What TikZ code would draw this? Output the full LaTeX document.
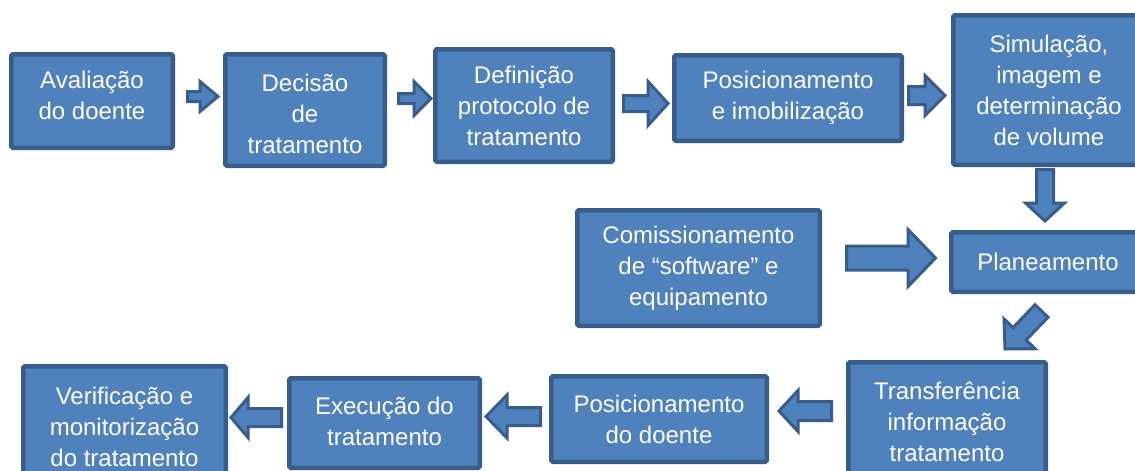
\documentclass[tikz,border=0pt]{standalone}
\usepackage{fontspec}
\setmainfont{Liberation Sans}
\usetikzlibrary{calc}
\definecolor{boxblue}{RGB}{79,129,189}
\definecolor{boxdark}{RGB}{56,93,138}
\newcommand{\blockarr}[5]{%
  \coordinate (bas) at #1; \coordinate (bae) at #2;
  \coordinate (bab) at ($(bae)!#5!(bas)$);
  \draw[blockarrow] ($(bas)!#3!90:(bae)$) -- ($(bab)!#3!-90:(bas)$) -- ($(bab)!#4!-90:(bas)$) -- (bae) -- ($(bab)!#4!90:(bas)$) -- ($(bab)!#3!90:(bas)$) -- ($(bas)!#3!-90:(bae)$) -- cycle;}
\tikzset{
  stepfont/.style={text=white, font=\fontsize{24}{31}\selectfont, align=center, inner sep=0pt},
  stepbox/.style={draw=boxdark, fill=boxblue, line width=4.5pt, rounded corners=1.5pt,
    stepfont, outer sep=0pt},
  blockarrow/.style={draw=boxdark, fill=boxblue, line width=3pt}
}
\begin{document}
\begin{tikzpicture}[x=1pt,y=-1pt]
\useasboundingbox (0,0) rectangle (1135,471);
\fill[white] (0,0) rectangle (1135,471);
\begin{scope}
\clip (0,0) rectangle (1135,471);
\node[stepbox, minimum width=161.5pt, minimum height=93.5pt,
  label={[stepfont,yshift=6pt]center:{Avaliação\\do doente}}] (A) at (92,101) {};
\node[stepbox, minimum width=159.5pt, minimum height=111.5pt,
  label={[stepfont,yshift=-4pt]center:{Decisão\\de\\tratamento}}] (B) at (305,110) {};
\node[stepbox, minimum width=177.5pt, minimum height=112.5pt] (C) at (524,105.5) {Definição\\protocolo de\\tratamento};
\node[stepbox, minimum width=227.5pt, minimum height=85.5pt] (D) at (788,98) {Posicionamento\\e imobilização};
\node[stepbox, minimum width=191.5pt, minimum height=149.5pt] (E) at (1049,90) {Simulação,\\imagem e\\determinação\\de volume};
\node[stepbox, minimum width=193.5pt, minimum height=59.5pt] (F) at (1048,262) {Planeamento};
\node[stepbox, minimum width=242.5pt, minimum height=115.5pt] (G) at (698.5,268) {Comissionamento\\de “software” e\\equipamento};
\node[stepbox, minimum width=197.5pt, minimum height=119.5pt] (H) at (947,422) {Transferência\\informação\\tratamento};
\node[stepbox, minimum width=215.5pt, minimum height=85.5pt] (I) at (659,419) {Posicionamento\\do doente};
\node[stepbox, minimum width=190.5pt, minimum height=89.5pt,
  label={[stepfont,yshift=2pt]center:{Execução do\\tratamento}}] (J) at (384.5,423) {};
\node[stepbox, minimum width=202.5pt, minimum height=121.5pt] (K) at (124.5,427) {Verificação e\\monitorização\\do tratamento};

\blockarr{($(A.east)+(14.75,-4.5)$)}{($(B.west)+(-7.25,-13.5)$)}{5pt}{15pt}{18pt}
\blockarr{($(B.east)+(13.75,-11.5)$)}{($(C.west)+(-4.25,-7)$)}{5pt}{17pt}{17pt}
\blockarr{($(C.east)+(10.75,-2)$)}{($(D.west)+(-6.25,5.5)$)}{8pt}{22pt}{20pt}
\blockarr{($(D.east)+(6.75,-2.5)$)}{($(E.west)+(-8.25,5.5)$)}{9pt}{20pt}{20pt}
\blockarr{($(E.south)+(-4,4.75)$)}{($(F.north)+(-3,-11.25)$)}{8.5pt}{19.5pt}{18pt}
\blockarr{($(G.east)+(26.75,-10)$)}{($(F.west)+(-15.75,-4)$)}{12pt}{28.5pt}{27.5pt}
\blockarr{($(F.south)+(-6.5,19.25)$)}{($(H.north)+(58,-13.25)$)}{9pt}{21.5pt}{21pt}
\blockarr{($(H.west)+(-16.75,-11)$)}{($(I.east)+(12.25,-8)$)}{9.5pt}{20.5pt}{19pt}
\blockarr{($(I.west)+(-10.75,-2.5)$)}{($(J.east)+(6.25,-6.5)$)}{9pt}{21.5pt}{21pt}
\blockarr{($(J.west)+(-7.75,-5.5)$)}{($(K.east)+(5.25,-9.5)$)}{9pt}{20pt}{17pt}
\end{scope}
\end{tikzpicture}
\end{document}
